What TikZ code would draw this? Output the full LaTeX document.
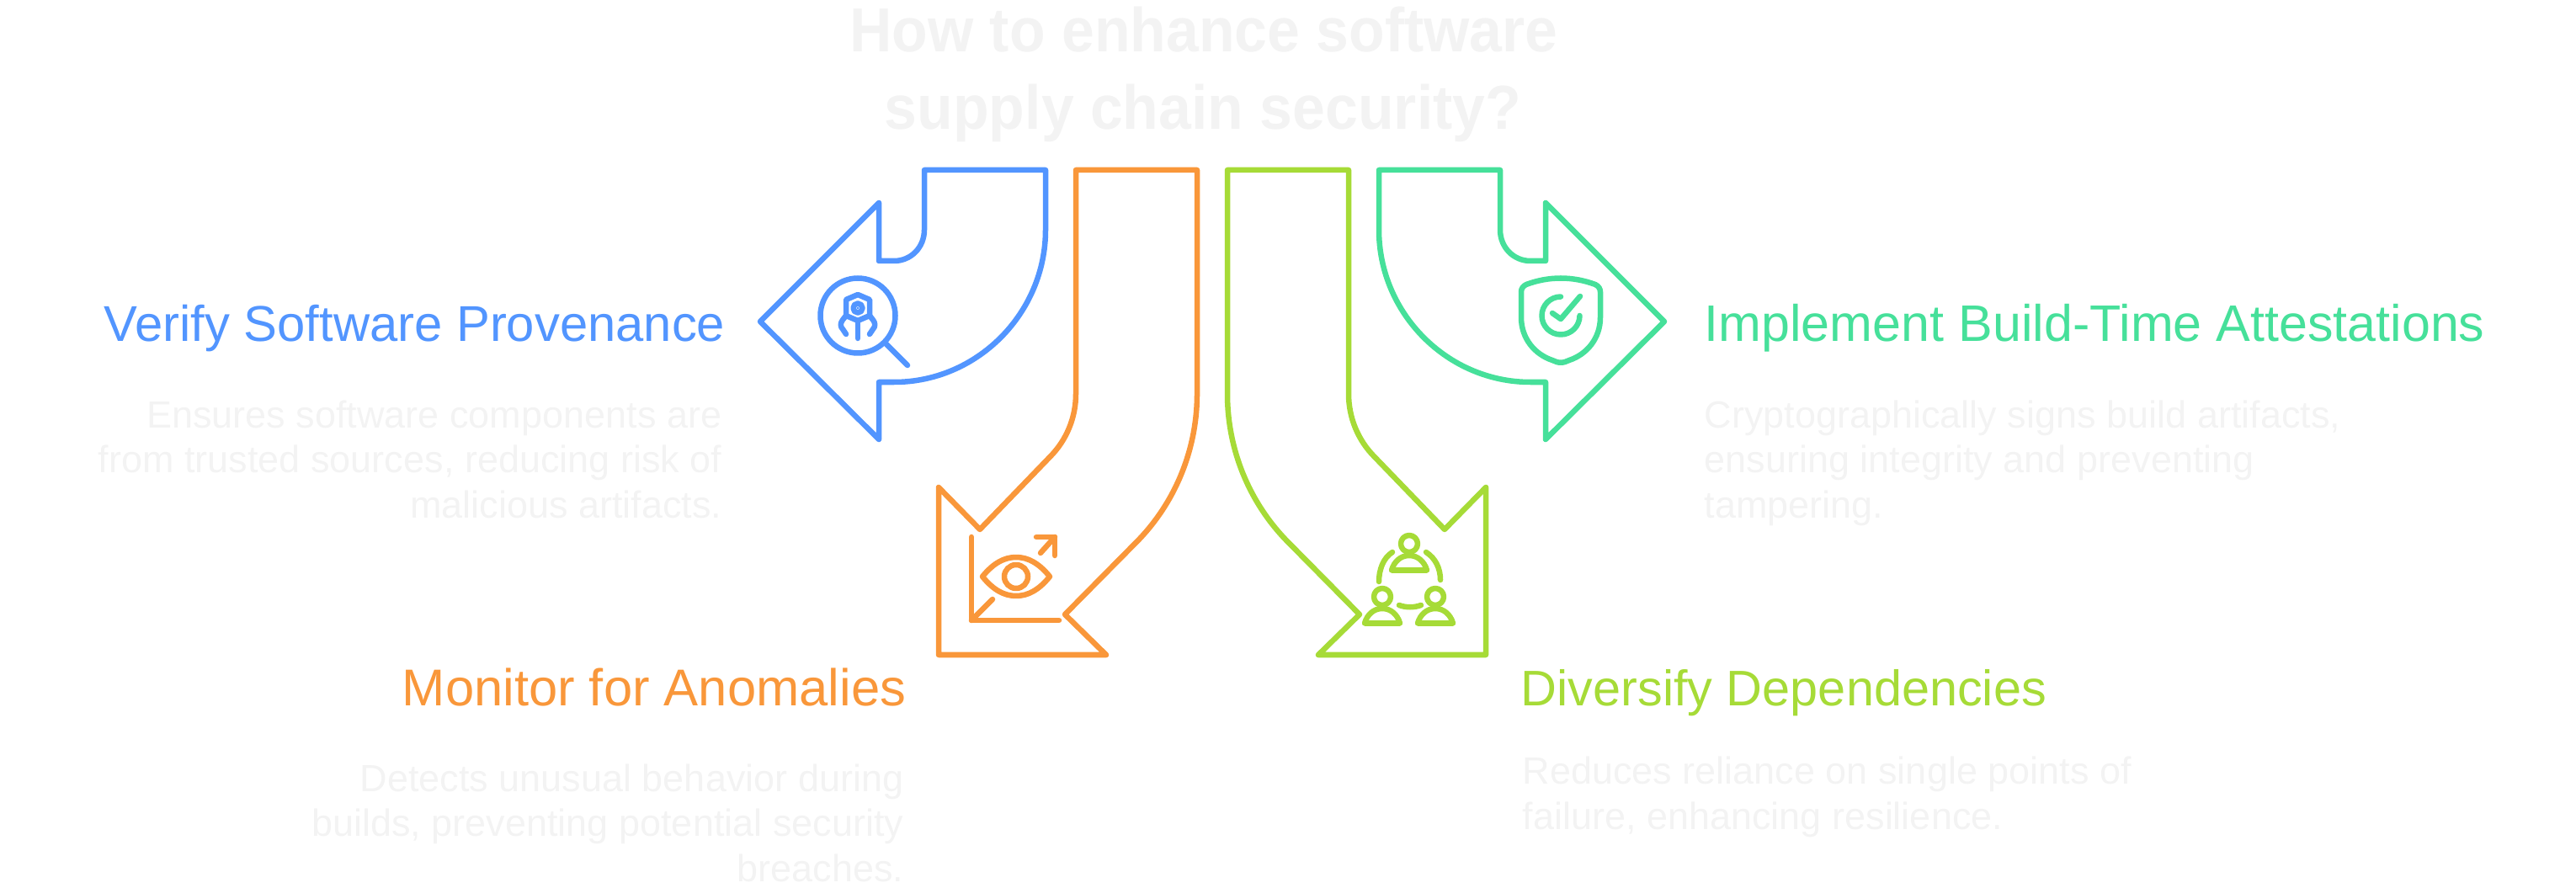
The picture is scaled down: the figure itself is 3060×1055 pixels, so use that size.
\documentclass[tikz,border=0pt]{standalone}
\usepackage{fontspec}
\setmainfont{Liberation Sans}
\newfontfamily\titlefont[FakeStretch=0.945]{Liberation Sans}
\usepackage{xcolor}
\usepackage{tikz}
\definecolor{blue}{HTML}{5295FF}
\definecolor{orange}{HTML}{F9973A}
\definecolor{lime}{HTML}{A6DB37}
\definecolor{green}{HTML}{46E09A}
\definecolor{faint}{HTML}{F3F3F3}

\begin{document}
\begin{tikzpicture}[
 x=0.01cm,y=-0.01cm,
 ln/.style={line width=1.85pt,line join=round,line cap=round,fill=none},
 tt/.style={font=\titlefont\fontsize{21}{25.6}\selectfont\bfseries,text=faint,inner sep=0pt,anchor=base},
 hd/.style={font=\fontsize{#1}{20}\selectfont,inner sep=0pt},
 bd/.style={font=\fontsize{12.8}{15.2}\selectfont,text=faint,inner sep=0pt}
]
\useasboundingbox (0,0) rectangle (3060,1055);
\node[tt] (title1) at (1430,62) {How to enhance software};
\node[tt] (title2) at (1429,154) {supply chain security?};
% blue arrow
\draw[ln,blue] (1098,202) -- (1242,202) -- (1242,273) .. controls (1242,372) and (1161,454) .. (1062,454) -- (1044,454) -- (1044,522) -- (903,382) -- (1044,241) -- (1044,310) -- (1062,310) .. controls (1082,310) and (1098,294) .. (1098,273) -- cycle;
\draw[ln,blue] (1019,375) circle[radius=44.5];
\draw[ln,blue] (1052,408) -- (1078,434);
\draw[ln,blue] (1019,350) -- (1033,356) -- (1033,375) -- (1019,381) -- (1005,375) -- (1005,356) -- cycle;
\draw[ln,blue] (1019,366) circle[radius=5.5];
\fill[blue] (1019,366) circle[radius=1.6];
\draw[ln,blue] (1019,381) -- (1019,402);
\draw[ln,blue] (1033,375) -- (1037,380) .. controls (1040,384) and (1040,388) .. (1037,391) -- (1033,397);
\draw[ln,blue] (1005,375) -- (1001,380) .. controls (998,384) and (998,388) .. (1001,391) -- (1005,397);
% orange arrow
\draw[ln,orange] (1278,202) -- (1422,202) -- (1422,468) .. controls (1422,534) and (1396,598) .. (1349,645) -- (1265,730) -- (1314,778) -- (1115,778) -- (1115,579) -- (1164,629) -- (1247,543) .. controls (1267,523) and (1278,496) .. (1278,468) -- cycle;
\draw[ln,orange] (1154,638) -- (1154,737) -- (1258,737);
\draw[ln,orange] (1179,712) -- (1154,737);
\draw[ln,orange] (1236,657) -- (1253,638);
\draw[ln,orange] (1231,638) -- (1253,638) -- (1253,660);
\draw[ln,orange] (1167,685) .. controls (1180,669) and (1193,662) .. (1207,662) .. controls (1221,662) and (1234,669) .. (1247,685) .. controls (1234,701) and (1221,708) .. (1207,708) .. controls (1193,708) and (1180,701) .. (1167,685) -- cycle;
\draw[ln,orange] (1207,685) circle[radius=14];
% lime arrow
\draw[ln,lime] (1602,202) -- (1458,202) -- (1458,468) .. controls (1458,534) and (1484,598) .. (1531,645) -- (1615,730) -- (1566,778) -- (1765,778) -- (1765,579) -- (1716,629) -- (1633,543) .. controls (1613,523) and (1602,496) .. (1602,468) -- cycle;
\foreach \hx/\hy in {1674/646,1642/709,1705/709} {
 \draw[ln,lime] (\hx,\hy) circle[radius=10];
 \draw[ln,lime] (\hx-21,\hy+31.5) .. controls (\hx-18,\hy+21) and (\hx-10,\hy+14) .. (\hx,\hy+14) .. controls (\hx+10,\hy+14) and (\hx+18,\hy+21) .. (\hx+21,\hy+31.5) -- cycle;
}
\draw[ln,lime] (1654,656) .. controls (1643,663) and (1638,677) .. (1638,691);
\draw[ln,lime] (1694,656) .. controls (1705,663) and (1711,675) .. (1711,689);
\draw[ln,lime] (1662,719) .. controls (1670,722) and (1680,722) .. (1688,719);
% green arrow
\draw[ln,green] (1782,202) -- (1638,202) -- (1638,273) .. controls (1638,372) and (1719,454) .. (1818,454) -- (1836,454) -- (1836,522) -- (1977,382) -- (1836,241) -- (1836,310) -- (1818,310) .. controls (1798,310) and (1782,294) .. (1782,273) -- cycle;
\draw[ln,green] (1807,347) .. controls (1807,343) and (1809,340) .. (1813,338) .. controls (1840,328) and (1868,328) .. (1895,338) .. controls (1899,340) and (1901,343) .. (1901,347) -- (1901,377) .. controls (1901,402) and (1885,421) .. (1864,428) -- (1859,430) .. controls (1856,431) and (1852,431) .. (1849,430) -- (1844,428) .. controls (1823,421) and (1807,402) .. (1807,377) -- cycle;
\draw[ln,green] (1854,352.5) .. controls (1841.6,352.5) and (1831.5,362.6) .. (1831.5,375) .. controls (1831.5,387.4) and (1841.6,397.5) .. (1854,397.5) .. controls (1866.4,397.5) and (1876.5,387.4) .. (1876.5,375);
\draw[ln,green] (1844,372) -- (1854,379) -- (1877,352);
% labels
\node[hd=17,text=blue,anchor=base east] (verify) at (862,406) {Verify Software Provenance};
\node[hd=17.5,text=orange,anchor=base east] (monitor) at (1077,838) {Monitor for Anomalies};
\node[hd=16.9,text=lime,anchor=base west] (diversify) at (1806,838) {Diversify Dependencies};
\node[hd=17.35,text=green,anchor=base west] (implement) at (2024,406) {Implement Build-Time Attestations};
\node[bd,align=right,anchor=base east] (verifytext) at (858,615) {Ensures software components are\\from trusted sources, reducing risk of\\malicious artifacts.};
\node[bd,align=right,anchor=base east] (monitortext) at (1074,1047) {Detects unusual behavior during\\builds, preventing potential security\\breaches.};
\node[bd,align=left,anchor=base west] (diversifytext) at (1808,985) {Reduces reliance on single points of\\failure, enhancing resilience.};
\node[bd,align=left,anchor=base west] (implementtext) at (2024,615) {Cryptographically signs build artifacts,\\ensuring integrity and preventing\\tampering.};
\end{tikzpicture}
\end{document}
